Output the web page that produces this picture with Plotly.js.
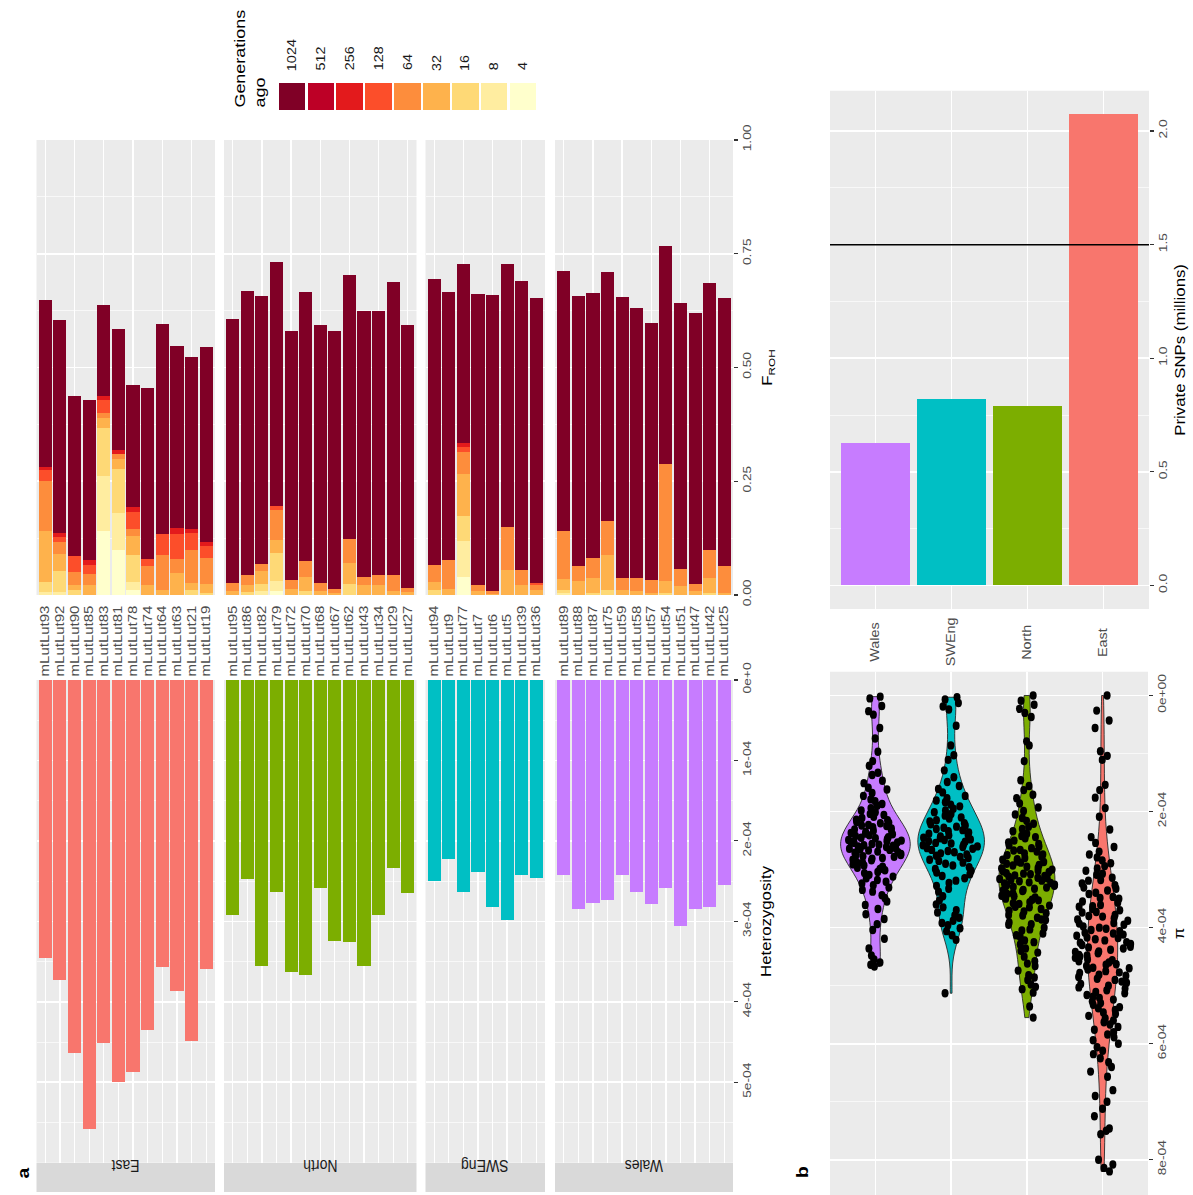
<!DOCTYPE html>
<html>
<head>
<meta charset="utf-8">
<script src="https://cdn.plot.ly/plotly-3.0.1.min.js"></script>
<style>
  html, body { margin: 0; padding: 0; background: #ffffff; overflow: hidden; }
  #frame { width: 1193px; height: 1195px; overflow: hidden; position: relative; }
  #fig { width: 1193px; height: 996px; transform: scaleY(1.2); transform-origin: 0 0; }
</style>
</head>
<body>
<div id="frame"><div id="fig"></div></div>
<script>
// ---------------- data ----------------
// ROH length classes (generations ago), from recent to ancient
const genClasses = ['4', '8', '16', '32', '64', '128', '256', '512', '1024'];
const genColors = ['#FFFFCC', '#FFEDA0', '#FED976', '#FEB24C', '#FD8D3C', '#FC4E2A', '#E31A1C', '#BD0026', '#800026'];
const legendOrder = ['1024', '512', '256', '128', '64', '32', '16', '8', '4'];

const populations = ['East', 'North', 'SWEng', 'Wales'];
const popColors = ['#F8766D', '#7CAE00', '#00BFC4', '#C77CFF'];

const eastIds = ['mLutLut93', 'mLutLut92', 'mLutLut90', 'mLutLut85', 'mLutLut83', 'mLutLut81',
                 'mLutLut78', 'mLutLut74', 'mLutLut64', 'mLutLut63', 'mLutLut21', 'mLutLut19'];
const northIds = ['mLutLut95', 'mLutLut86', 'mLutLut82', 'mLutLut79', 'mLutLut72', 'mLutLut70', 'mLutLut68',
                  'mLutLut67', 'mLutLut62', 'mLutLut43', 'mLutLut34', 'mLutLut29', 'mLutLut27'];
const swengIds = ['mLutLut94', 'mLutLut9', 'mLutLut77', 'mLutLut7', 'mLutLut6', 'mLutLut5', 'mLutLut39', 'mLutLut36'];
const walesIds = ['mLutLut89', 'mLutLut88', 'mLutLut87', 'mLutLut75', 'mLutLut59', 'mLutLut58',
                  'mLutLut57', 'mLutLut54', 'mLutLut51', 'mLutLut47', 'mLutLut42', 'mLutLut25'];

// F_ROH per individual, one column per class in genClasses order (4 ... 1024)
const eastFroh = [
  [0, 0.007, 0.022, 0.112, 0.110, 0.023, 0.007, 0, 0.367],
  [0, 0.007, 0.046, 0.038, 0.026, 0.010, 0.009, 0, 0.468],
  [0, 0, 0.011, 0.011, 0.029, 0.035, 0, 0, 0.352],
  [0, 0, 0, 0.022, 0.024, 0.020, 0.010, 0, 0.352],
  [0.141, 0.121, 0.105, 0.022, 0.011, 0.028, 0.009, 0, 0.200],
  [0.099, 0.081, 0.098, 0.020, 0.011, 0, 0.009, 0, 0.266],
  [0.010, 0.018, 0.061, 0.040, 0.017, 0.036, 0.011, 0, 0.269],
  [0, 0, 0, 0.022, 0.042, 0.015, 0, 0, 0.376],
  [0, 0, 0, 0.010, 0.079, 0.046, 0, 0, 0.461],
  [0, 0, 0, 0.048, 0.031, 0.056, 0.012, 0, 0.400],
  [0, 0, 0.010, 0.016, 0.073, 0.037, 0.009, 0, 0.377],
  [0, 0, 0.005, 0.019, 0.057, 0.026, 0.010, 0, 0.427]
];
const northFroh = [
  [0, 0, 0, 0.008, 0.018, 0, 0, 0, 0.580],
  [0, 0, 0.006, 0.015, 0.023, 0, 0, 0, 0.624],
  [0, 0.008, 0.016, 0.029, 0.015, 0, 0, 0, 0.590],
  [0.008, 0.023, 0.062, 0.027, 0.066, 0.010, 0, 0, 0.535],
  [0, 0, 0, 0.013, 0.021, 0, 0, 0, 0.546],
  [0, 0, 0.008, 0.032, 0.034, 0, 0, 0, 0.593],
  [0, 0, 0, 0.008, 0.018, 0, 0, 0, 0.567],
  [0, 0, 0, 0.004, 0.010, 0, 0, 0, 0.567],
  [0, 0, 0.024, 0.046, 0.054, 0, 0, 0, 0.580],
  [0, 0, 0, 0.021, 0.018, 0, 0, 0, 0.585],
  [0, 0, 0, 0.021, 0.022, 0, 0, 0, 0.581],
  [0, 0, 0, 0.008, 0.037, 0, 0, 0, 0.642],
  [0, 0, 0, 0.006, 0.010, 0, 0, 0, 0.578]
];
const swengFroh = [
  [0, 0, 0.010, 0.018, 0.037, 0, 0, 0, 0.629],
  [0, 0, 0, 0.013, 0.065, 0, 0, 0, 0.587],
  [0.040, 0.079, 0.055, 0.092, 0.048, 0.011, 0.009, 0, 0.394],
  [0, 0, 0, 0.008, 0.015, 0, 0, 0, 0.638],
  [0, 0, 0, 0.002, 0.006, 0, 0, 0, 0.651],
  [0, 0, 0, 0.055, 0.095, 0, 0, 0, 0.577],
  [0, 0, 0, 0.021, 0.033, 0, 0, 0, 0.637],
  [0, 0, 0, 0.010, 0.011, 0.006, 0, 0, 0.626]
];
const walesFroh = [
  [0, 0.005, 0.007, 0.023, 0.106, 0, 0, 0, 0.570],
  [0, 0, 0, 0.031, 0.033, 0, 0, 0, 0.593],
  [0, 0, 0.005, 0.033, 0.044, 0, 0, 0, 0.581],
  [0, 0, 0.012, 0.077, 0.073, 0, 0, 0, 0.548],
  [0, 0, 0, 0.012, 0.026, 0, 0, 0, 0.617],
  [0, 0, 0, 0.009, 0.028, 0, 0, 0, 0.593],
  [0, 0, 0, 0.005, 0.027, 0, 0, 0, 0.565],
  [0, 0, 0.005, 0.026, 0.256, 0, 0, 0, 0.481],
  [0, 0, 0, 0.020, 0.037, 0, 0, 0, 0.584],
  [0, 0, 0, 0.009, 0.016, 0, 0, 0, 0.595],
  [0, 0, 0.005, 0.033, 0.062, 0, 0, 0, 0.586],
  [0, 0, 0, 0.005, 0.059, 0, 0, 0, 0.588]
];

// genome-wide heterozygosity per individual, in units of 1e-4
const eastHet = [3.45, 3.73, 4.64, 5.58, 4.51, 5.00, 4.87, 4.35, 3.57, 3.87, 4.49, 3.59];
const northHet = [2.92, 2.47, 3.56, 2.64, 3.63, 3.67, 2.58, 3.24, 3.26, 3.56, 2.92, 2.34, 2.65];
const swengHet = [2.50, 2.22, 2.64, 2.39, 2.82, 2.98, 2.43, 2.46];
const walesHet = [2.42, 2.85, 2.77, 2.74, 2.42, 2.63, 2.79, 2.58, 3.06, 2.85, 2.82, 2.55];

// private SNPs per population (millions)
const snpPops = ['Wales', 'SWEng', 'North', 'East'];
const snpMillions = [0.627, 0.821, 0.791, 2.074];
const snpColors = ['#C77CFF', '#00BFC4', '#7CAE00', '#F8766D'];
const snpReference = 1.5;

// nucleotide diversity (pi) in windows, in units of 1e-4
const piWales = [0.02, 0.05, 0.18, 0.27, 0.33, 0.56, 0.74, 0.97, 1.13, 1.21, 1.33, 1.37, 1.47, 1.51, 1.59, 1.62,
  1.68, 1.73, 1.79, 1.82, 1.87, 1.9, 1.94, 1.98, 2.01, 2.04, 2.06, 2.09, 2.11, 2.14, 2.15, 2.18, 2.19, 2.2, 2.23,
  2.24, 2.25, 2.27, 2.29, 2.31, 2.32, 2.33, 2.35, 2.37, 2.38, 2.39, 2.41, 2.42, 2.44, 2.45, 2.46, 2.47, 2.49, 2.5,
  2.51, 2.52, 2.53, 2.54, 2.56, 2.57, 2.58, 2.59, 2.6, 2.61, 2.63, 2.64, 2.65, 2.66, 2.67, 2.69, 2.7, 2.71, 2.73,
  2.74, 2.75, 2.77, 2.78, 2.8, 2.81, 2.83, 2.84, 2.86, 2.88, 2.89, 2.91, 2.93, 2.95, 2.97, 2.99, 3.01, 3.04, 3.06,
  3.09, 3.12, 3.15, 3.18, 3.21, 3.24, 3.27, 3.31, 3.35, 3.38, 3.44, 3.49, 3.55, 3.61, 3.68, 3.77, 3.85, 3.94, 4.04,
  4.19, 4.36, 4.48, 4.55, 4.6, 4.64, 4.67];
const piSWEng = [0.03, 0.07, 0.13, 0.19, 0.24, 0.52, 0.86, 1.03, 1.11, 1.29, 1.41, 1.49, 1.56, 1.61, 1.67, 1.73,
  1.77, 1.81, 1.84, 1.88, 1.91, 1.95, 1.98, 2.01, 2.04, 2.07, 2.1, 2.12, 2.15, 2.17, 2.2, 2.22, 2.24, 2.26, 2.28,
  2.3, 2.32, 2.34, 2.36, 2.38, 2.4, 2.41, 2.43, 2.45, 2.46, 2.48, 2.49, 2.51, 2.52, 2.54, 2.55, 2.57, 2.58, 2.6,
  2.61, 2.63, 2.64, 2.66, 2.68, 2.7, 2.72, 2.74, 2.76, 2.78, 2.8, 2.83, 2.85, 2.88, 2.9, 2.93, 2.96, 2.99, 3.02,
  3.05, 3.08, 3.11, 3.15, 3.19, 3.23, 3.28, 3.33, 3.38, 3.46, 3.53, 3.6, 3.65, 3.7, 3.74, 3.79, 3.83, 3.88, 3.92,
  3.96, 4.01, 4.06, 4.13, 4.21, 5.13];
const piNorth = [0.0, 0.09, 0.16, 0.23, 0.3, 0.37, 0.79, 0.86, 1.13, 1.46, 1.56, 1.63, 1.71, 1.77, 1.86, 1.93,
  1.99, 2.05, 2.11, 2.16, 2.21, 2.26, 2.3, 2.34, 2.38, 2.42, 2.44, 2.46, 2.5, 2.53, 2.56, 2.58, 2.6, 2.63, 2.66,
  2.67, 2.69, 2.72, 2.74, 2.75, 2.78, 2.8, 2.82, 2.83, 2.86, 2.87, 2.88, 2.9, 2.92, 2.93, 2.95, 2.97, 2.98, 3.0,
  3.02, 3.03, 3.04, 3.06, 3.07, 3.08, 3.1, 3.11, 3.12, 3.14, 3.15, 3.16, 3.18, 3.19, 3.2, 3.22, 3.23, 3.24, 3.26,
  3.27, 3.28, 3.3, 3.31, 3.33, 3.35, 3.36, 3.37, 3.4, 3.41, 3.42, 3.45, 3.46, 3.48, 3.5, 3.52, 3.53, 3.56, 3.58,
  3.59, 3.62, 3.64, 3.65, 3.68, 3.71, 3.72, 3.75, 3.78, 3.79, 3.83, 3.86, 3.87, 3.91, 3.94, 3.95, 4.0, 4.03, 4.05,
  4.1, 4.13, 4.16, 4.22, 4.25, 4.29, 4.36, 4.4, 4.43, 4.5, 4.58, 4.62, 4.66, 4.74, 4.82, 4.86, 4.9, 4.98, 5.02,
  5.06, 5.12, 5.36, 5.55];
const piEast = [0.0, 0.26, 0.43, 0.56, 0.96, 1.04, 1.11, 1.54, 1.63, 1.76, 1.94, 2.09, 2.31, 2.44, 2.54, 2.61,
  2.69, 2.74, 2.79, 2.84, 2.89, 2.94, 2.98, 3.02, 3.07, 3.09, 3.14, 3.18, 3.19, 3.24, 3.27, 3.31, 3.33, 3.36, 3.4,
  3.42, 3.47, 3.49, 3.5, 3.55, 3.57, 3.61, 3.63, 3.64, 3.68, 3.7, 3.73, 3.74, 3.78, 3.8, 3.81, 3.84, 3.86, 3.88,
  3.92, 3.93, 3.95, 3.98, 4.0, 4.02, 4.04, 4.06, 4.09, 4.1, 4.12, 4.14, 4.17, 4.18, 4.2, 4.22, 4.25, 4.26, 4.28,
  4.3, 4.33, 4.34, 4.36, 4.38, 4.41, 4.42, 4.44, 4.47, 4.48, 4.5, 4.52, 4.55, 4.56, 4.58, 4.6, 4.63, 4.64, 4.66,
  4.69, 4.7, 4.72, 4.75, 4.77, 4.78, 4.81, 4.83, 4.85, 4.88, 4.9, 4.93, 4.95, 4.97, 5.0, 5.03, 5.05, 5.08, 5.11,
  5.13, 5.16, 5.19, 5.21, 5.24, 5.27, 5.3, 5.33, 5.37, 5.39, 5.42, 5.46, 5.49, 5.52, 5.56, 5.6, 5.63, 5.67, 5.71,
  5.76, 5.8, 5.84, 5.89, 5.94, 6.0, 6.06, 6.12, 6.18, 6.25, 6.32, 6.4, 6.48, 6.57, 6.8, 6.9, 7.0, 7.12, 7.25,
  7.46, 7.5, 7.56, 8.0, 8.08, 8.14, 8.2];

const frohTicks = [0, 0.25, 0.5, 0.75, 1];
const frohTickText = ['0.00', '0.25', '0.50', '0.75', '1.00'];
const hetTicks = [0, 1e-4, 2e-4, 3e-4, 4e-4, 5e-4];
const hetTickText = ['0e+0', '1e-04', '2e-04', '3e-04', '4e-04', '5e-04'];
const snpTicks = [0, 0.5, 1, 1.5, 2];
const snpTickText = ['0.0', '0.5', '1.0', '1.5', '2.0'];
const piTicks = [0, 2e-4, 4e-4, 6e-4, 8e-4];
const piTickText = ['0e+00', '2e-04', '4e-04', '6e-04', '8e-04'];
const UNIT = 1e-4;

// ---------------- page geometry ----------------
// the figure is drawn at 1193 x 996 and stretched vertically by 1.2
const W = 1193, H = 996, SY = 1.2;
const fx = px => px / W;
const fy = py => 1 - py / (H * SY);

const FONT = 'Liberation Sans, Arial, sans-serif';
const tickFont = { family: FONT, size: 11.5, color: '#4D4D4D' };
const titleFont = { family: FONT, size: 14, color: '#000000' };
const PANEL = '#EBEBEB';
const gridStyle = { showgrid: true, gridcolor: '#FFFFFF', gridwidth: 1.3, zeroline: false, showline: false };

const ids = [eastIds, northIds, swengIds, walesIds];
const froh = [eastFroh, northFroh, swengFroh, walesFroh];
const het = [eastHet, northHet, swengHet, walesHet];
const facetX = [[36.5, 215], [224, 416.5], [425.5, 545], [555, 733]];

const axKey = (p, i) => p + 'axis' + (i === 1 ? '' : i);
const axRef = (p, i) => p + (i === 1 ? '' : i);

const traces = [];
const shapes = [];
const annotations = [];
const layout = {
  width: W, height: H,
  margin: { l: 0, r: 0, t: 0, b: 0, pad: 0 },
  paper_bgcolor: '#FFFFFF', plot_bgcolor: 'rgba(0,0,0,0)',
  barmode: 'stack', violinmode: 'overlay',
  showlegend: false, hovermode: false,
  font: { family: FONT, color: '#000000' }
};

function panelBg(xr, yr) {
  shapes.push({ type: 'rect', xref: xr + ' domain', yref: yr + ' domain', x0: 0, x1: 1, y0: 0, y1: 1,
                fillcolor: PANEL, line: { width: 0 }, layer: 'below' });
}

// ---------------- panel a: F_ROH (top) and heterozygosity (bottom) facets ----------------
populations.forEach((pop, p) => {
  const n = ids[p].length;
  const dom = [fx(facetX[p][0]), fx(facetX[p][1])];
  const iTop = p + 1, iBot = p + 5;
  layout[axKey('x', iTop)] = Object.assign({
    domain: dom, anchor: 'y', type: 'category', categoryorder: 'array', categoryarray: ids[p],
    range: [-0.6, n - 0.4], showticklabels: false, ticks: ''
  }, gridStyle);
  layout[axKey('x', iBot)] = Object.assign({
    domain: dom, anchor: 'y2', side: 'top', type: 'category', categoryorder: 'array', categoryarray: ids[p],
    range: [-0.6, n - 0.4], tickmode: 'array', tickvals: ids[p], ticktext: ids[p],
    tickangle: -90, ticks: '', tickfont: { family: FONT, size: 12.5, color: '#4D4D4D' },
    ticklabelstandoff: 2
  }, gridStyle);
  panelBg(axRef('x', iTop), 'y');
  panelBg(axRef('x', iBot), 'y2');

  genClasses.forEach((g, k) => {
    traces.push({
      type: 'bar', x: ids[p], y: froh[p].map(row => row[k]), name: g,
      xaxis: axRef('x', iTop), yaxis: 'y', width: 0.9,
      marker: { color: genColors[k], line: { width: 0 } }
    });
  });
  traces.push({
    type: 'bar', x: ids[p], y: het[p].map(v => v * UNIT), name: pop,
    xaxis: axRef('x', iBot), yaxis: 'y2', width: 0.9,
    marker: { color: popColors[p], line: { width: 0 } }
  });

  // facet strip under the heterozygosity panel
  shapes.push({ type: 'rect', xref: axRef('x', iBot) + ' domain', yref: 'paper', x0: 0, x1: 1,
                y0: fy(1192), y1: fy(1163), fillcolor: '#D9D9D9', line: { width: 0 } });
  annotations.push({ xref: axRef('x', iBot) + ' domain', yref: 'paper', x: 0.5, y: fy(1177.5),
                     text: pop, textangle: 180, showarrow: false,
                     font: { family: FONT, size: 14, color: '#1A1A1A' } });
});

layout.yaxis = Object.assign({
  domain: [fy(595), fy(140)], anchor: 'x4', side: 'right', range: [0, 1],
  tickmode: 'array', tickvals: frohTicks, ticktext: frohTickText, tickangle: -90,
  ticks: 'outside', ticklen: 3.5, tickwidth: 1, tickcolor: '#333333', tickfont: tickFont,
  minor: { dtick: 0.125, showgrid: true, gridcolor: '#FFFFFF', gridwidth: 0.6 },
  title: { text: 'F<sub>ROH</sub>', font: titleFont, standoff: 9 }
}, gridStyle);
layout.yaxis2 = Object.assign({
  domain: [fy(1162.7), fy(680)], anchor: 'x8', side: 'right', range: [6e-4, 0],
  tickmode: 'array', tickvals: hetTicks, ticktext: hetTickText, tickangle: -90,
  ticks: 'outside', ticklen: 3.5, tickwidth: 1, tickcolor: '#333333', tickfont: tickFont,
  minor: { dtick: 0.5e-4, showgrid: true, gridcolor: '#FFFFFF', gridwidth: 0.6 },
  title: { text: 'Heterozygosity', font: titleFont, standoff: 8 }
}, gridStyle);

// ---------------- panel b: private SNPs ----------------
layout.xaxis9 = Object.assign({
  domain: [fx(830), fx(1149)], anchor: 'y3', type: 'category', categoryorder: 'array',
  categoryarray: snpPops, range: [-0.6, 3.6], showticklabels: false, ticks: ''
}, gridStyle);
layout.yaxis3 = Object.assign({
  domain: [fy(609), fy(90.7)], anchor: 'x9', side: 'right', range: [-0.1037, 2.1777],
  tickmode: 'array', tickvals: snpTicks, ticktext: snpTickText, tickangle: -90,
  ticks: 'outside', ticklen: 3.5, tickwidth: 1, tickcolor: '#333333', tickfont: tickFont,
  minor: { dtick: 0.25, showgrid: true, gridcolor: '#FFFFFF', gridwidth: 0.6 },
  title: { text: 'Private SNPs (millions)', font: titleFont, standoff: 6 }
}, gridStyle);
panelBg('x9', 'y3');
traces.push({
  type: 'bar', x: snpPops, y: snpMillions, xaxis: 'x9', yaxis: 'y3', width: 0.9,
  marker: { color: snpColors, line: { width: 0 } }
});
shapes.push({ type: 'line', xref: 'x9 domain', yref: 'y3', x0: 0, x1: 1, y0: snpReference, y1: snpReference,
              line: { color: '#000000', width: 1.3 } });

// ---------------- panel b: nucleotide diversity violins ----------------
layout.xaxis10 = Object.assign({
  domain: [fx(830), fx(1148)], anchor: 'y4', type: 'category', categoryorder: 'array',
  categoryarray: snpPops, range: [-0.6, 3.6], showticklabels: false, ticks: ''
}, gridStyle);
layout.yaxis4 = Object.assign({
  domain: [0, fy(671.7)], anchor: 'x10', side: 'right', range: [8.61e-4, -0.41e-4],
  tickmode: 'array', tickvals: piTicks, ticktext: piTickText, tickangle: -90,
  ticks: 'outside', ticklen: 3.5, tickwidth: 1, tickcolor: '#333333', tickfont: tickFont,
  minor: { dtick: 1e-4, showgrid: true, gridcolor: '#FFFFFF', gridwidth: 0.6 },
  title: { text: 'π', font: titleFont, standoff: 6 }
}, gridStyle);
panelBg('x10', 'y4');
const piSets = [piWales, piSWEng, piNorth, piEast];
// equal-area look: violins with a lower density peak are drawn narrower
const violinWidths = [0.92, 0.88, 0.74, 0.40];
snpPops.forEach((pop, i) => {
  const vals = piSets[i].map(v => v * UNIT);
  traces.push({
    type: 'violin', x0: pop, y: vals, name: pop,
    xaxis: 'x10', yaxis: 'y4', width: violinWidths[i], scalemode: 'width', spanmode: 'hard',
    fillcolor: snpColors[i], opacity: 1, line: { color: '#262626', width: 0.8 },
    points: false, box: { visible: false }, meanline: { visible: false }
  });
});
// jittered windows drawn over all violins
snpPops.forEach((pop, i) => {
  const vals = piSets[i].map(v => v * UNIT);
  traces.push({
    type: 'violin', x0: pop, y: vals, name: pop + ' windows',
    xaxis: 'x10', yaxis: 'y4', width: 0.9, scalemode: 'width', spanmode: 'hard',
    fillcolor: 'rgba(0,0,0,0)', line: { color: 'rgba(0,0,0,0)', width: 0 },
    points: 'all', pointpos: 0, jitter: 0.85,
    marker: { color: '#000000', size: 7, line: { width: 0 } },
    box: { visible: false }, meanline: { visible: false }
  });
  annotations.push({ xref: 'x10', yref: 'paper', x: pop, y: fy(642), text: pop, textangle: -90,
                     showarrow: false, font: { family: FONT, size: 12, color: '#4D4D4D' } });
});

// ---------------- legend: generations ago ----------------
layout.xaxis11 = { domain: [fx(277.5), fx(537.5)], anchor: 'y11', type: 'category', categoryorder: 'array',
                   categoryarray: legendOrder, range: [-0.5, 8.5], visible: false };
layout.yaxis11 = { domain: [fy(110), fy(82.7)], anchor: 'x11', range: [0, 1], visible: false };
traces.push({
  type: 'bar', x: legendOrder, y: legendOrder.map(() => 1), xaxis: 'x11', yaxis: 'y11', width: 0.92,
  marker: { color: legendOrder.map(g => genColors[genClasses.indexOf(g)]), line: { width: 0 } }
});
legendOrder.forEach((g, k) => {
  // category index keeps numeric-looking names from being read as positions
  annotations.push({ xref: 'x11', yref: 'paper', x: k, y: fy(73), yanchor: 'bottom', text: g,
                     textangle: -90, showarrow: false, font: { family: FONT, size: 12, color: '#1A1A1A' } });
});
annotations.push({ xref: 'paper', yref: 'paper', x: fx(250), y: fy(110), xanchor: 'center', yanchor: 'bottom',
                   text: 'Generations<br>ago', align: 'left', textangle: -90, showarrow: false,
                   font: { family: FONT, size: 15, color: '#000000' } });

// panel letters
annotations.push({ xref: 'paper', yref: 'paper', x: fx(13), y: fy(1181), text: '<b>a</b>', textangle: -90,
                   showarrow: false, font: { family: FONT, size: 16, color: '#000000' } });
annotations.push({ xref: 'paper', yref: 'paper', x: fx(813), y: fy(1181), text: '<b>b</b>', textangle: -90,
                   showarrow: false, font: { family: FONT, size: 16, color: '#000000' } });

layout.shapes = shapes;
layout.annotations = annotations;

Plotly.newPlot('fig', traces, layout, { staticPlot: true, displayModeBar: false });
</script>
</body>
</html>
